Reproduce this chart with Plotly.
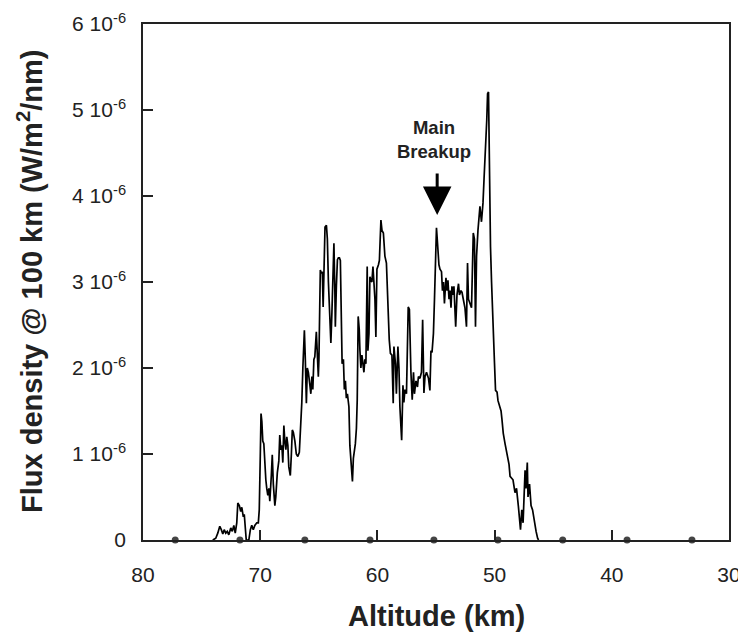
import plotly.graph_objects as go

# Altitude (km) of each sample of the light curve
ALTITUDE_KM = [
    74.05, 73.79, 73.62, 73.45, 73.32, 73.19, 73.07, 72.94, 72.81, 72.68,
    72.51, 72.38, 72.25, 72.13, 72.00, 71.91, 71.78, 71.66, 71.57, 71.44,
    71.36, 71.27, 71.19, 70.97, 70.84, 70.72, 70.59, 70.46, 70.29, 70.16,
    70.08, 69.99, 69.93, 69.86, 69.78, 69.69, 69.61, 69.52, 69.44, 69.35,
    69.26, 69.18, 69.05, 68.97, 68.88, 68.75, 68.67, 68.54, 68.41, 68.33,
    68.24, 68.15, 68.07, 67.98, 67.90, 67.81, 67.73, 67.64, 67.56, 67.43,
    67.34, 67.26, 67.17, 67.04, 66.92, 66.79, 66.66, 66.57, 66.53, 66.45,
    66.36, 66.32, 66.23, 66.15, 66.06, 65.98, 65.89, 65.76, 65.68, 65.59,
    65.51, 65.42, 65.34, 65.21, 65.12, 65.04, 64.99, 64.87, 64.78, 64.70,
    64.63, 64.54, 64.47, 64.35, 64.27, 64.18, 64.12, 64.03, 63.97, 63.88,
    63.82, 63.76, 63.71, 63.63, 63.59, 63.50, 63.41, 63.33, 63.24, 63.16,
    63.07, 63.01, 62.90, 62.82, 62.73, 62.65, 62.56, 62.43, 62.35, 62.26,
    62.13, 62.05, 61.96, 61.88, 61.79, 61.72, 61.64, 61.55, 61.49, 61.41,
    61.32, 61.24, 61.15, 61.07, 60.98, 60.87, 60.81, 60.72, 60.64, 60.55,
    60.47, 60.38, 60.30, 60.21, 60.13, 60.04, 59.91, 59.83, 59.70, 59.61,
    59.49, 59.36, 59.23, 59.10, 58.99, 58.89, 58.76, 58.65, 58.59, 58.46,
    58.38, 58.25, 58.16, 58.08, 57.93, 57.82, 57.74, 57.65, 57.52, 57.37,
    57.27, 57.14, 57.03, 56.92, 56.84, 56.71, 56.58, 56.50, 56.37, 56.24,
    56.14, 56.03, 55.94, 55.81, 55.64, 55.52, 55.43, 55.34, 55.22, 55.13,
    55.05, 54.96, 54.87, 54.75, 54.66, 54.53, 54.45, 54.36, 54.28, 54.15,
    54.06, 53.98, 53.89, 53.81, 53.72, 53.64, 53.55, 53.47, 53.32, 53.21,
    53.08, 53.00, 52.87, 52.78, 52.70, 52.53, 52.40, 52.31, 52.23, 52.10,
    51.97, 51.82, 51.72, 51.63, 51.54, 51.42, 51.33, 51.25, 51.12, 50.99,
    50.90, 50.82, 50.73, 50.67, 50.60, 50.52, 50.43, 50.35, 50.26, 50.18,
    50.09, 50.01, 49.92, 49.79, 49.71, 49.58, 49.45, 49.37, 49.26, 49.11,
    48.98, 48.85, 48.77, 48.68, 48.56, 48.43, 48.26, 48.13, 47.97, 47.87,
    47.79, 47.68, 47.57, 47.40, 47.32, 47.21, 47.15, 47.02, 46.89, 46.76,
    46.63, 46.46, 46.33, 46.25,
]

# Flux density in units of 1e-6 W/m^2/nm
FLUX_E6 = [
    0.00, 0.02, 0.08, 0.16, 0.12, 0.07, 0.12, 0.08, 0.10, 0.06,
    0.14, 0.10, 0.17, 0.08, 0.20, 0.43, 0.40, 0.33, 0.38, 0.27,
    0.30, 0.05, 0.00, 0.00, 0.12, 0.17, 0.12, 0.17, 0.20, 0.20,
    0.35, 1.00, 1.47, 1.38, 1.15, 1.12, 0.88, 0.70, 0.60, 0.52,
    0.60, 0.45, 0.75, 0.99, 0.65, 0.40, 0.50, 0.78, 0.92, 1.22,
    1.05, 1.10, 0.90, 1.33, 1.15, 1.05, 1.20, 1.10, 0.85, 0.75,
    1.00, 1.28, 1.25, 1.15, 1.00, 0.97, 1.02, 1.25, 1.45, 1.60,
    2.00, 2.13, 2.44, 2.10, 1.59, 2.00, 1.95, 1.80, 1.70, 1.90,
    1.75, 2.10, 2.13, 2.42, 2.20, 1.90, 2.10, 3.14, 3.10, 3.12,
    2.71, 3.20, 3.64, 3.66, 3.50, 3.00, 2.75, 2.45, 2.29, 2.65,
    2.98, 3.30, 3.45, 2.90, 2.48, 2.95, 3.26, 3.28, 3.28, 3.25,
    2.50, 2.05, 2.10, 1.75, 1.85, 1.65, 1.70, 1.55, 1.10, 0.95,
    0.68, 0.95, 1.05, 1.12, 1.30, 1.63, 2.60, 2.45, 2.20, 2.00,
    2.15, 2.05, 1.95, 2.10, 2.05, 3.18, 2.20, 2.40, 3.06, 3.02,
    3.00, 3.18, 3.00, 2.80, 2.36, 3.15, 3.20, 3.25, 3.72, 3.60,
    3.57, 3.30, 3.22, 2.70, 2.33, 2.17, 2.15, 1.59, 2.25, 2.05,
    1.70, 2.25, 2.00, 1.55, 1.16, 1.80, 1.60, 1.75, 1.70, 2.71,
    2.68, 1.95, 1.63, 1.95, 1.70, 1.85, 1.78, 1.90, 1.88, 1.95,
    2.56, 1.71, 1.90, 1.95, 1.88, 1.74, 2.20, 2.18, 2.40, 2.80,
    3.30, 3.63, 3.45, 3.20, 3.15, 3.12, 2.90, 3.00, 2.75, 3.05,
    2.90, 3.02, 2.80, 2.90, 2.70, 2.95, 2.85, 2.95, 2.48, 2.85,
    2.98, 2.85, 2.90, 2.88, 2.82, 2.70, 2.48, 3.22, 2.80, 2.75,
    2.70, 3.57, 3.50, 2.48, 3.30, 3.60, 3.75, 3.88, 3.70, 3.92,
    4.20, 4.53, 4.70, 4.88, 5.19, 5.21, 4.11, 3.41, 3.00, 2.64,
    2.20, 2.06, 1.74, 1.72, 1.62, 1.55, 1.50, 1.40, 1.24, 1.12,
    1.03, 0.95, 0.88, 0.74, 0.72, 0.70, 0.55, 0.60, 0.39, 0.20,
    0.12, 0.35, 0.20, 0.81, 0.60, 0.90, 0.50, 0.65, 0.40, 0.35,
    0.22, 0.10, 0.02, 0.00,
]

# Timing marks drawn on the altitude axis
TIMING_MARK_KM = [77.25, 71.73, 66.19, 60.63, 55.18, 49.72, 44.19, 38.70, 33.16]

X_TICKS = [80, 70, 60, 50, 40, 30]
Y_TICK_MANTISSA = [0, 1, 2, 3, 4, 5, 6]
Y_TICK_LABELS = ["0", "1 10<sup>-6</sup>", "2 10<sup>-6</sup>", "3 10<sup>-6</sup>",
                 "4 10<sup>-6</sup>", "5 10<sup>-6</sup>", "6 10<sup>-6</sup>"]

BREAKUP_TEXT_KM = 55.2
BREAKUP_TEXT_E6 = 4.66
BREAKUP_ARROW_KM = 54.9
BREAKUP_ARROW_TIP_E6 = 3.78
BREAKUP_ARROW_TAIL_E6 = 4.28

SCALE = 1e-6
flux = [v * SCALE for v in FLUX_E6]
y_tickvals = [m * SCALE for m in Y_TICK_MANTISSA]

FONT = "Liberation Sans, Arial, Helvetica, sans-serif"
AXC = "#222222"

fig = go.Figure()
fig.add_trace(go.Scatter(
    x=ALTITUDE_KM, y=flux, mode="lines",
    line=dict(color="black", width=1.7),
    hoverinfo="skip",
))
fig.add_trace(go.Scatter(
    x=TIMING_MARK_KM, y=[0] * len(TIMING_MARK_KM), mode="markers",
    marker=dict(color="#444444", size=7),
    cliponaxis=False, hoverinfo="skip",
))

# The page body has an 8px margin, so the figure is sized to fit inside it.
fig.update_layout(
    width=738, height=624,
    margin=dict(l=135, r=17, t=16, b=92),
    paper_bgcolor="white", plot_bgcolor="white",
    showlegend=False,
    font=dict(family=FONT, color=AXC, size=21),
    xaxis=dict(
        range=[80, 30], tickvals=X_TICKS, ticks="inside", ticklen=10,
        tickwidth=1.5, tickcolor=AXC, showline=True, linewidth=1.5,
        linecolor=AXC, mirror=True, showgrid=False, zeroline=False,
        ticklabelstandoff=15, automargin=False,
        tickfont=dict(size=21, family=FONT, color=AXC),
    ),
    yaxis=dict(
        range=[0, 6e-6], tickvals=y_tickvals, ticktext=Y_TICK_LABELS,
        ticks="inside", ticklen=10, tickwidth=1.5, tickcolor=AXC,
        showline=True, linewidth=1.5, linecolor=AXC, mirror=True,
        showgrid=False, zeroline=False, ticklabelstandoff=11,
        automargin=False,
        tickfont=dict(size=21, family=FONT, color=AXC),
    ),
    annotations=[
        dict(text="<b>Altitude (km)</b>", xref="paper", yref="paper",
             x=0.5, y=-0.147, xanchor="center", yanchor="middle",
             showarrow=False, font=dict(size=29, family=FONT, color=AXC)),
        dict(text="<b>Flux density @ 100 km (W/m<sup>2</sup>/nm)</b>",
             xref="paper", yref="paper", x=-0.192, y=0.501,
             xanchor="center", yanchor="middle", textangle=-90,
             showarrow=False, font=dict(size=29, family=FONT, color=AXC)),
        dict(text="<b>Main<br>Breakup</b>", xref="x", yref="y",
             x=BREAKUP_TEXT_KM, y=BREAKUP_TEXT_E6 * SCALE,
             xanchor="center", yanchor="middle", showarrow=False,
             font=dict(size=18.5, family=FONT, color=AXC)),
        dict(text="", xref="x", yref="y", axref="x", ayref="y",
             x=BREAKUP_ARROW_KM, y=BREAKUP_ARROW_TIP_E6 * SCALE,
             ax=BREAKUP_ARROW_KM, ay=BREAKUP_ARROW_TAIL_E6 * SCALE,
             showarrow=True, arrowhead=2, arrowsize=1.9, arrowwidth=3,
             arrowcolor="black"),
    ],
)

fig.write_html("out.html")
